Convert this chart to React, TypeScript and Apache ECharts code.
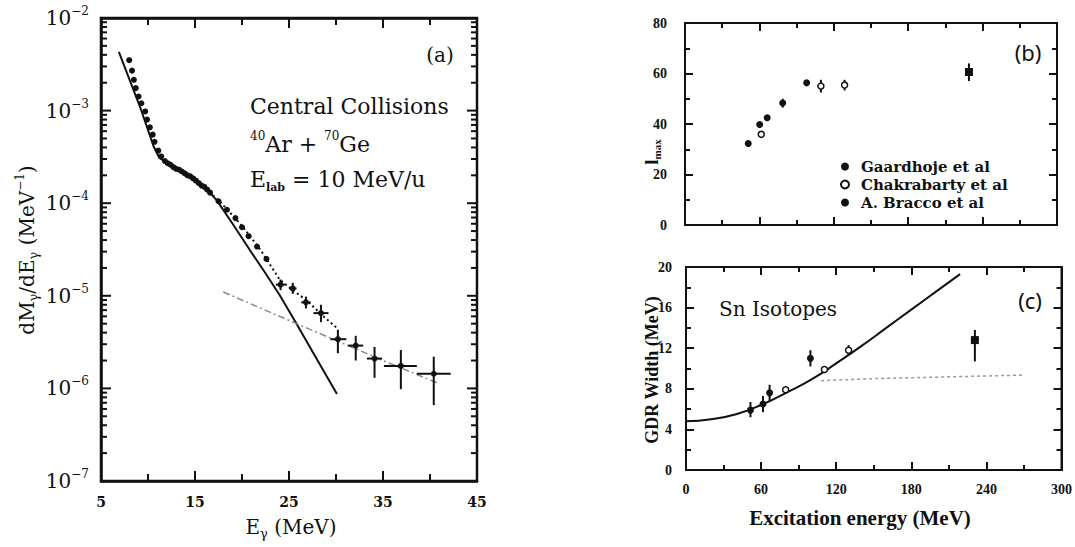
import React, { useEffect, useRef } from "react";
import * as echarts from "echarts";

// ---------------- Panel (a): photon multiplicity spectrum ----------------
// [E_gamma (MeV), dM/dE (1/MeV)]
const photonSpectrum: [number, number][] = [
  [8.0, 3.5e-3], [8.3, 2.7e-3], [8.5, 2.15e-3], [8.7, 1.75e-3], [9.0, 1.42e-3],
  [9.3, 1.2e-3], [9.7, 9.8e-4], [9.9, 8.0e-4], [10.2, 6.6e-4], [10.5, 5.5e-4],
  [10.7, 4.6e-4], [11.1, 3.7e-4], [11.4, 3.2e-4], [11.8, 2.85e-4], [12.1, 2.7e-4],
  [12.4, 2.6e-4], [12.7, 2.45e-4], [13.0, 2.35e-4], [13.3, 2.3e-4], [13.6, 2.2e-4],
  [13.9, 2.1e-4], [14.2, 2.0e-4], [14.5, 1.95e-4], [14.8, 1.85e-4], [15.1, 1.75e-4],
  [15.4, 1.65e-4], [15.7, 1.55e-4], [16.0, 1.5e-4], [16.3, 1.4e-4], [16.6, 1.3e-4],
  [17.5, 1.05e-4], [18.4, 8.5e-5], [19.3, 6.9e-5], [20.0, 5.5e-5], [20.7, 4.4e-5],
  [21.6, 3.4e-5], [22.6, 2.5e-5],
];
// [E, value, E low, E high, value low, value high]
const photonSpectrumBinned: number[][] = [
  [24.1, 1.32e-5, 23.6, 24.6, 1.15e-5, 1.5e-5],
  [25.4, 1.2e-5, 25.0, 25.8, 1.05e-5, 1.38e-5],
  [26.8, 8.5e-6, 26.3, 27.3, 7.3e-6, 9.8e-6],
  [28.4, 6.5e-6, 27.6, 29.2, 5.2e-6, 8.0e-6],
  [30.2, 3.4e-6, 29.4, 31.1, 2.4e-6, 4.3e-6],
  [32.1, 2.9e-6, 31.3, 32.9, 2.0e-6, 3.7e-6],
  [34.1, 2.1e-6, 33.3, 34.9, 1.3e-6, 2.8e-6],
  [36.9, 1.75e-6, 35.1, 38.6, 9.8e-7, 2.6e-6],
  [40.4, 1.44e-6, 38.6, 42.2, 6.6e-7, 2.2e-6],
];
const statisticalCurve: [number, number][] = [
  [6.9, 4.3e-3], [9.15, 1.1e-3], [10.6, 4.1e-4], [11.2, 3.1e-4], [12.5, 2.5e-4],
  [14.5, 1.95e-4], [16.0, 1.5e-4], [17.3, 1.08e-4], [19.0, 6.0e-5], [20.85, 3.1e-5],
  [22.5, 1.75e-5], [24.0, 1.02e-5], [25.8, 5.0e-6], [27.6, 2.4e-6], [30.1, 8.7e-7],
];
const fitCurve: [number, number][] = [
  [14.0, 2.1e-4], [16.0, 1.5e-4], [18.0, 9.5e-5], [20.0, 5.7e-5], [22.0, 3.1e-5],
  [24.0, 1.5e-5], [25.4, 1.15e-5], [26.9, 8.9e-6], [28.5, 6.2e-6], [30.1, 4.5e-6],
];
const bremsstrahlungCurve: [number, number][] = [
  [18.0, 1.1e-5], [25.8, 5.0e-6], [30.0, 3.3e-6], [35.0, 2.0e-6], [41.0, 1.12e-6],
];
const spectrumXTicks = [5, 15, 25, 35, 45];
const spectrumDecades = [-7, -6, -5, -4, -3, -2];
const decadeSubdivisions = [1, 2, 3, 4, 5, 6, 7, 8, 9];

// ---------------- Panel (b): l_max vs excitation energy ----------------
// [E*, l_max, low, high]
const lmaxGaardhoje: number[][] = [
  [51, 32.3, 31.8, 32.8], [60.2, 39.8, 38.8, 40.8], [66.3, 42.5, 41.5, 43.5],
  [78.8, 48.3, 46.5, 50.0], [98.1, 56.3, 55.3, 57.3],
];
const lmaxChakrabarty: number[][] = [
  [61.5, 35.9, 35.0, 37.0], [109.6, 55.0, 52.5, 57.5], [128.7, 55.4, 53.3, 57.5],
];
const lmaxBracco: number[][] = [[229, 60.6, 57.0, 64.0]];

// ---------------- Panel (c): GDR width vs excitation energy ----------------
const widthGaardhoje: number[][] = [
  [51.5, 5.9, 5.2, 6.7], [61.5, 6.5, 5.7, 7.3], [66.8, 7.6, 6.8, 8.4], [99.4, 11.0, 10.2, 11.8],
];
const widthChakrabarty: number[][] = [
  [79.6, 7.9, 7.6, 8.2], [110.6, 9.9, 9.6, 10.2], [129.9, 11.8, 11.3, 12.3],
];
const widthBracco: number[][] = [[230.8, 12.8, 10.7, 13.8]];
const widthTheory: [number, number][] = [
  [0, 4.8], [20, 5.0], [40, 5.5], [60, 6.4], [80, 7.6], [100, 8.9], [120, 10.5],
  [140, 12.2], [160, 14.0], [180, 15.8], [200, 17.6], [219, 19.3],
];
const widthSaturation: [number, number][] = [[108, 8.8], [150, 9.0], [200, 9.15], [269, 9.35]];

const legendNames = ["Gaardhoje et al", "Chakrabarty et al", "A. Bracco et al"];

const INK = "#111";
const SERIF = "'DejaVu Serif', serif";
const LSERIF = "'Liberation Serif', serif";
const TICK_W = 2;

function vErrRender(_p: any, api: any) {
  const x = api.value(0);
  const a = api.coord([x, api.value(2)]);
  const b = api.coord([x, api.value(3)]);
  return {
    type: "line",
    shape: { x1: a[0], y1: a[1], x2: b[0], y2: b[1] },
    style: { stroke: INK, lineWidth: 2 },
  };
}

function crossErrRender(_p: any, api: any) {
  const x = api.value(0);
  const y = api.value(1);
  const l = api.coord([api.value(2), y]);
  const r = api.coord([api.value(3), y]);
  const d = api.coord([x, api.value(4)]);
  const u = api.coord([x, api.value(5)]);
  return {
    type: "group",
    children: [
      { type: "line", shape: { x1: l[0], y1: l[1], x2: r[0], y2: r[1] }, style: { stroke: INK, lineWidth: 2 } },
      { type: "line", shape: { x1: d[0], y1: d[1], x2: u[0], y2: u[1] }, style: { stroke: INK, lineWidth: 2 } },
    ],
  };
}

// inward log ticks on both sides of panel (a)
function logTickRender(_p: any, api: any) {
  const v = api.value(1);
  const left = api.coord([spectrumXTicks[0], v]);
  const right = api.coord([spectrumXTicks[spectrumXTicks.length - 1], v]);
  const len = api.value(2) ? 10 : 6;
  return {
    type: "group",
    children: [
      { type: "line", shape: { x1: left[0], y1: left[1], x2: left[0] + len, y2: left[1] }, style: { stroke: INK, lineWidth: TICK_W } },
      { type: "line", shape: { x1: right[0] - len, y1: right[1], x2: right[0], y2: right[1] }, style: { stroke: INK, lineWidth: TICK_W } },
    ],
  };
}

const tickStyle = { lineStyle: { color: INK, width: TICK_W } };

function linAxis(grid: number, min: number, max: number, interval: number, position: string, labels: any, lineW: number) {
  return {
    type: "value",
    gridIndex: grid,
    min,
    max,
    interval,
    position,
    axisLine: { show: true, onZero: false, lineStyle: { color: INK, width: lineW } },
    splitLine: { show: false },
    axisTick: { show: true, inside: true, length: 8, ...tickStyle },
    minorTick: { show: true, splitNumber: 2, length: 5, ...tickStyle },
    axisLabel: labels ? labels : { show: false },
  };
}

export default function App() {
  const ref = useRef<HTMLDivElement>(null);

  useEffect(() => {
    if (!ref.current) return;
    const chart = echarts.init(ref.current, undefined, { renderer: "svg" });

    const logTicks: number[][] = [];
    spectrumDecades.forEach((e) => {
      if (e === -2) return;
      decadeSubdivisions.forEach((m) => {
        if (e === -7 && m === 1) return;
        logTicks.push([spectrumXTicks[0], m * Math.pow(10, e), m === 1 ? 1 : 0]);
      });
    });

    const bcLabel = (margin: number) => ({
      margin,
      color: INK,
      fontFamily: LSERIF,
      fontWeight: "bold",
      fontSize: 14,
    });

    const option: any = {
      animation: false,
      backgroundColor: "#fff",
      grid: [
        { left: 101, top: 18, width: 376, height: 463, show: true, borderColor: INK, borderWidth: 2.5 },
        { left: 685, top: 23, width: 372, height: 202, show: true, borderColor: INK, borderWidth: 2 },
        { left: 686, top: 267, width: 377, height: 203, show: true, borderColor: INK, borderWidth: 2 },
      ],
      legend: {
        orient: "vertical",
        left: 835,
        top: 153,
        itemWidth: 8,
        itemHeight: 8,
        itemGap: 1,
        selectedMode: false,
        data: legendNames.map((n) => ({ name: n, icon: "circle" })),
        textStyle: { fontFamily: SERIF, fontWeight: "bold", fontSize: 15, color: INK, lineHeight: 17, padding: [0, 0, 0, 7] },
      },
      xAxis: [
        {
          ...linAxis(0, spectrumXTicks[0], spectrumXTicks[spectrumXTicks.length - 1], 10, "bottom", {
            margin: 14, color: INK, fontFamily: SERIF, fontWeight: "bold", fontSize: 14,
          }, 2.5),
          axisTick: { show: true, inside: true, length: 10, ...tickStyle },
          minorTick: { show: true, splitNumber: 2, length: 7, ...tickStyle },
        },
        {
          ...linAxis(0, spectrumXTicks[0], spectrumXTicks[spectrumXTicks.length - 1], 10, "top", null, 2.5),
          axisTick: { show: true, inside: true, length: 10, ...tickStyle },
          minorTick: { show: true, splitNumber: 2, length: 7, ...tickStyle },
        },
        linAxis(1, 0, 300, 60, "bottom", null, 2),
        linAxis(1, 0, 300, 60, "top", null, 2),
        linAxis(2, 0, 300, 60, "bottom", bcLabel(12), 2),
        linAxis(2, 0, 300, 60, "top", null, 2),
      ],
      yAxis: [
        {
          type: "log",
          gridIndex: 0,
          logBase: 10,
          min: 1e-7,
          max: 1e-2,
          splitNumber: 5,
          axisLine: { show: true, lineStyle: { color: INK, width: 2.5 } },
          axisTick: { show: false },
          splitLine: { show: false },
          axisLabel: {
            margin: 12,
            formatter: (v: number) => {
              const e = Math.round(Math.log10(v));
              return `{m|10}{e|−${Math.abs(e)}}`;
            },
            rich: {
              m: { fontFamily: SERIF, fontSize: 20, color: INK, lineHeight: 26, verticalAlign: "middle" },
              e: { fontFamily: SERIF, fontSize: 12, color: INK, lineHeight: 14, verticalAlign: "top" },
            },
          },
        },
        linAxis(1, 0, 80, 20, "left", bcLabel(18), 2),
        linAxis(1, 0, 80, 20, "right", null, 2),
        linAxis(2, 0, 20, 4, "left", bcLabel(14), 2),
        linAxis(2, 0, 20, 4, "right", null, 2),
      ],
      series: [
        // ---- panel (a)
        { type: "custom", xAxisIndex: 0, yAxisIndex: 0, silent: true, renderItem: logTickRender, data: logTicks, encode: { x: 0, y: 1 }, z: 10 },
        { type: "line", xAxisIndex: 0, yAxisIndex: 0, data: statisticalCurve, symbol: "none", lineStyle: { color: INK, width: 2 }, z: 3 },
        { type: "line", xAxisIndex: 0, yAxisIndex: 0, data: fitCurve, symbol: "none", lineStyle: { color: INK, width: 2, type: [2, 3] }, z: 3 },
        { type: "line", xAxisIndex: 0, yAxisIndex: 0, data: bremsstrahlungCurve, symbol: "none", lineStyle: { color: "#8a8a8a", width: 1.5, type: [7, 3, 2, 3] }, z: 3 },
        { type: "scatter", xAxisIndex: 0, yAxisIndex: 0, data: photonSpectrum, symbol: "circle", symbolSize: 6, itemStyle: { color: INK, opacity: 1 }, z: 4 },
        { type: "custom", xAxisIndex: 0, yAxisIndex: 0, renderItem: crossErrRender, data: photonSpectrumBinned, encode: { x: 0, y: 1 }, z: 4 },
        { type: "scatter", xAxisIndex: 0, yAxisIndex: 0, data: photonSpectrumBinned.map((d) => [d[0], d[1]]), symbol: "circle", symbolSize: 6, itemStyle: { color: INK, opacity: 1 }, z: 5 },

        // ---- panel (b)
        { type: "custom", xAxisIndex: 2, yAxisIndex: 1, renderItem: vErrRender, data: [...lmaxGaardhoje, ...lmaxChakrabarty, ...lmaxBracco], encode: { x: 0, y: 1 }, z: 3 },
        { name: legendNames[0], type: "scatter", xAxisIndex: 2, yAxisIndex: 1, data: lmaxGaardhoje.map((d) => [d[0], d[1]]), symbol: "circle", symbolSize: 7, itemStyle: { color: INK, opacity: 1 }, z: 4 },
        { name: legendNames[1], type: "scatter", xAxisIndex: 2, yAxisIndex: 1, data: lmaxChakrabarty.map((d) => [d[0], d[1]]), symbol: "circle", symbolSize: 6, itemStyle: { color: "#fff", borderColor: INK, borderWidth: 1.5, opacity: 1 }, z: 4 },
        { name: legendNames[2], type: "scatter", xAxisIndex: 2, yAxisIndex: 1, data: lmaxBracco.map((d) => [d[0], d[1]]), symbol: "rect", symbolSize: 8, itemStyle: { color: INK, opacity: 1 }, z: 4 },

        // ---- panel (c)
        { type: "line", xAxisIndex: 4, yAxisIndex: 3, data: widthTheory, smooth: true, symbol: "none", lineStyle: { color: INK, width: 2 }, z: 3 },
        { type: "line", xAxisIndex: 4, yAxisIndex: 3, data: widthSaturation, symbol: "none", lineStyle: { color: "#9a9a9a", width: 1.5, type: [3, 3] }, z: 3 },
        { type: "custom", xAxisIndex: 4, yAxisIndex: 3, renderItem: vErrRender, data: [...widthGaardhoje, ...widthChakrabarty, ...widthBracco], encode: { x: 0, y: 1 }, z: 3 },
        { name: legendNames[0], type: "scatter", xAxisIndex: 4, yAxisIndex: 3, data: widthGaardhoje.map((d) => [d[0], d[1]]), symbol: "circle", symbolSize: 7, itemStyle: { color: INK, opacity: 1 }, z: 4 },
        { name: legendNames[1], type: "scatter", xAxisIndex: 4, yAxisIndex: 3, data: widthChakrabarty.map((d) => [d[0], d[1]]), symbol: "circle", symbolSize: 6, itemStyle: { color: "#fff", borderColor: INK, borderWidth: 1.5, opacity: 1 }, z: 4 },
        { name: legendNames[2], type: "scatter", xAxisIndex: 4, yAxisIndex: 3, data: widthBracco.map((d) => [d[0], d[1]]), symbol: "rect", symbolSize: 8, itemStyle: { color: INK, opacity: 1 }, z: 4 },
      ],
      graphic: [
        // panel (a) axis titles
        {
          type: "text", x: 27, y: 250, rotation: Math.PI / 2,
          style: {
            text: "{n|dM}{s|γ}{n|/dE}{s|γ}{n| (MeV}{p|−1}{n|)}",
            align: "center", verticalAlign: "middle", fill: INK,
            rich: {
              n: { fontFamily: SERIF, fontSize: 20, fill: INK, lineHeight: 26, verticalAlign: "middle" },
              s: { fontFamily: SERIF, fontSize: 13, fill: INK, lineHeight: 15, verticalAlign: "bottom" },
              p: { fontFamily: SERIF, fontSize: 12, fill: INK, lineHeight: 14, verticalAlign: "top" },
            },
          },
        },
        {
          type: "text", x: 291, y: 527,
          style: {
            text: "{n|E}{s|γ}{n| (MeV)}",
            align: "center", verticalAlign: "middle", fill: INK,
            rich: {
              n: { fontFamily: SERIF, fontSize: 20, fill: INK, lineHeight: 26, verticalAlign: "middle" },
              s: { fontFamily: SERIF, fontSize: 13, fill: INK, lineHeight: 15, verticalAlign: "bottom" },
            },
          },
        },
        { type: "text", x: 440, y: 55, style: { text: "(a)", align: "center", verticalAlign: "middle", fontFamily: SERIF, fontSize: 20, fill: INK } },
        { type: "text", x: 250, y: 106, style: { text: "Central Collisions", align: "left", verticalAlign: "middle", fontFamily: SERIF, fontSize: 22, fill: INK } },
        {
          type: "text", x: 250, y: 144,
          style: {
            text: "{p|40}{n|Ar + }{p|70}{n|Ge}",
            align: "left", verticalAlign: "middle", fill: INK,
            rich: {
              n: { fontFamily: SERIF, fontSize: 22, fill: INK, lineHeight: 28, verticalAlign: "middle" },
              p: { fontFamily: SERIF, fontSize: 12, fill: INK, lineHeight: 18, verticalAlign: "top" },
            },
          },
        },
        {
          type: "text", x: 250, y: 179,
          style: {
            text: "{n|E}{s|lab}{n| = 10 MeV/u}",
            align: "left", verticalAlign: "middle", fill: INK,
            rich: {
              n: { fontFamily: SERIF, fontSize: 22, fill: INK, lineHeight: 28, verticalAlign: "middle" },
              s: { fontFamily: SERIF, fontSize: 11, fontWeight: "bold", fill: INK, lineHeight: 20, verticalAlign: "bottom" },
            },
          },
        },
        // panel (b)
        { type: "text", x: 1028, y: 52, style: { text: "(b)", align: "center", verticalAlign: "middle", fontFamily: "'Noto Sans', sans-serif", fontSize: 22, fill: INK } },
        {
          type: "text", x: 651, y: 152, rotation: Math.PI / 2,
          style: {
            text: "{n|l}{s|max}",
            align: "center", verticalAlign: "middle", fill: INK,
            rich: {
              n: { fontFamily: LSERIF, fontWeight: "bold", fontSize: 19, fill: INK, lineHeight: 22, verticalAlign: "middle" },
              s: { fontFamily: LSERIF, fontWeight: "bold", fontSize: 11, fill: INK, lineHeight: 16, verticalAlign: "bottom" },
            },
          },
        },
        // panel (c)
        { type: "text", x: 1030, y: 300, style: { text: "(c)", align: "center", verticalAlign: "middle", fontFamily: "'Noto Sans', sans-serif", fontSize: 22, fill: INK } },
        { type: "text", x: 719, y: 309, style: { text: "Sn Isotopes", align: "left", verticalAlign: "middle", fontFamily: SERIF, fontSize: 20, fill: INK } },
        { type: "text", x: 652, y: 370, rotation: Math.PI / 2, style: { text: "GDR Width (MeV)", align: "center", verticalAlign: "middle", fontFamily: LSERIF, fontWeight: "bold", fontSize: 18, fill: INK } },
        { type: "text", x: 860, y: 518, style: { text: "Excitation energy (MeV)", align: "center", verticalAlign: "middle", fontFamily: LSERIF, fontWeight: "bold", fontSize: 21, fill: INK } },
      ],
    };

    chart.setOption(option);
    return () => chart.dispose();
  }, []);

  return (
    <div
      ref={ref}
      style={{ position: "fixed", left: 0, top: 0, width: 1075, height: 547, background: "#fff" }}
    />
  );
}
